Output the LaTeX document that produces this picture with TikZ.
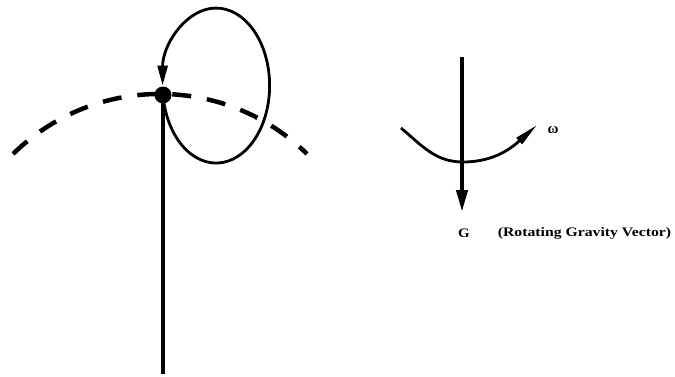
\documentclass[tikz,border=0pt]{standalone}
\usepackage{fontspec}
\setmainfont{Liberation Serif}
\usetikzlibrary{arrows.meta}
\begin{document}
\begin{tikzpicture}[x=1pt,y=1pt,
  thickline/.style={line width=4pt},
  loopline/.style={line width=2.8pt},
  dashline/.style={line width=4.5pt,dash pattern=on 19pt off 16pt},
  bighead/.style={-{Triangle[length=20pt,width=10pt]}},
  label/.style={font=\bfseries\fontsize{13}{15}\selectfont,inner sep=0pt}]
\useasboundingbox (0,0) rectangle (675,376);
% dashed arc
\coordinate (dl) at (13.1,222.1);
\draw[dashline] (dl) arc[start angle=134.4,end angle=45.6,radius=210];
% dot
\node[circle,fill,inner sep=0pt,minimum size=17pt] (dot) at (163,281) {};
\coordinate (bot) at (163,2);
\draw[thickline] (dot.center) -- (bot);
% loop
\draw[loopline,bighead] (dot.center) arc[start angle=187,end angle=540,x radius=53.5,y radius=77.5];
% gravity vector
\coordinate (gtop) at (462,319);
\coordinate (gtip) at (462,164);
\draw[thickline,-{Triangle[length=22pt,width=11pt]}] (gtop) -- (gtip);
% rotation arc
\coordinate (wl) at (401,248);
\coordinate (wb) at (463,214);
\coordinate (wr) at (537,251);
\draw[loopline,-{Triangle[length=24pt,width=8pt]}] (wl) to[out=-40,in=180] (wb) to[out=0,in=222] (wr);
% labels
\node[label,font=\bfseries\fontsize{15}{17}\selectfont] (omega) at (553,246) {ω};
\node[label] (G) at (464,143) {\scalebox{1.15}[1]{G}};
\node[label] (cap) at (584.5,143) {\scalebox{1.21}[1]{(Rotating Gravity Vector)}};
\end{tikzpicture}
\end{document}
